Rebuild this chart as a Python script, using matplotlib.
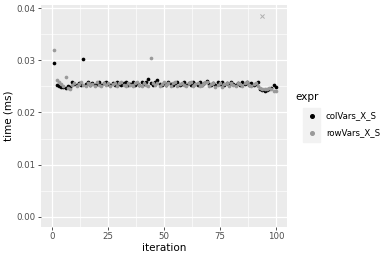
import numpy as np
import matplotlib.pyplot as plt

# Données (temps en ms)
iteration = np.arange(1, 101)

col_vars = [
    0.0295, 0.0253, 0.0251, 0.0249, 0.0248, 0.0247, 0.0250, 0.0249, 0.0258, 0.0255,
    0.0253, 0.0257, 0.0252, 0.0302, 0.0255, 0.0258, 0.0253, 0.0257, 0.0252, 0.0255,
    0.0258, 0.0253, 0.0257, 0.0259, 0.0255, 0.0252, 0.0257, 0.0253, 0.0258, 0.0255,
    0.0252, 0.0257, 0.0259, 0.0253, 0.0255, 0.0258, 0.0252, 0.0257, 0.0253, 0.0258,
    0.0255, 0.0259, 0.0264, 0.0257, 0.0253, 0.0258, 0.0262, 0.0255, 0.0252, 0.0257,
    0.0253, 0.0258, 0.0255, 0.0252, 0.0257, 0.0259, 0.0253, 0.0255, 0.0258, 0.0252,
    0.0257, 0.0253, 0.0259, 0.0255, 0.0252, 0.0258, 0.0253, 0.0257, 0.0260, 0.0255,
    0.0252, 0.0257, 0.0253, 0.0258, 0.0255, 0.0259, 0.0252, 0.0257, 0.0253, 0.0258,
    0.0255, 0.0252, 0.0257, 0.0253, 0.0258, 0.0255, 0.0259, 0.0253, 0.0257, 0.0252,
    0.0255, 0.0258, 0.0245, 0.0243, 0.0242, 0.0243, 0.0244, 0.0247, 0.0253, 0.0249,
]

row_vars = [
    0.0320, 0.0262, 0.0259, 0.0255, 0.0251, 0.0268, 0.0246, 0.0244, 0.0253, 0.0257,
    0.0251, 0.0255, 0.0258, 0.0253, 0.0251, 0.0257, 0.0252, 0.0255, 0.0250, 0.0258,
    0.0253, 0.0251, 0.0256, 0.0252, 0.0257, 0.0250, 0.0254, 0.0257, 0.0251, 0.0256,
    0.0258, 0.0252, 0.0250, 0.0257, 0.0253, 0.0251, 0.0256, 0.0258, 0.0252, 0.0250,
    0.0257, 0.0253, 0.0251, 0.0304, 0.0256, 0.0252, 0.0257, 0.0250, 0.0254, 0.0258,
    0.0252, 0.0256, 0.0250, 0.0257, 0.0259, 0.0251, 0.0254, 0.0257, 0.0252, 0.0250,
    0.0256, 0.0258, 0.0251, 0.0254, 0.0257, 0.0250, 0.0252, 0.0256, 0.0258, 0.0251,
    0.0254, 0.0257, 0.0249, 0.0252, 0.0256, 0.0248, 0.0254, 0.0257, 0.0251, 0.0256,
    0.0252, 0.0250, 0.0257, 0.0254, 0.0251, 0.0256, 0.0258, 0.0252, 0.0250, 0.0254,
    0.0257, 0.0251, 0.0246, 0.0244, 0.0244, 0.0245, 0.0246, 0.0244, 0.0242, 0.0241,
]

# Point isolé marqué d'une croix
outlier_iter = [94]
outlier_time = [0.0385]

labels = ['colVars_X_S', 'rowVars_X_S']
colors = ['black', '#9a9a9a']

"""Figure"""

fig = plt.figure(figsize=(3.9, 2.6), dpi=100)
ax = fig.add_axes([41/390, 1 - 227/260, 246/390, 222/260])
ax.set_facecolor('#EBEBEB')
for s in ax.spines.values():
    s.set_visible(False)

ax.set_xlim(-4.95, 104.95)
ax.set_ylim(-0.00193, 0.04058)
ax.set_xticks([0, 25, 50, 75, 100])
ax.set_xticks([12.5, 37.5, 62.5, 87.5], minor=True)
ax.set_yticks([0, 0.01, 0.02, 0.03, 0.04])
ax.set_yticklabels(['0.00', '0.01', '0.02', '0.03', '0.04'])
ax.set_yticks([0.005, 0.015, 0.025, 0.035], minor=True)
ax.grid(True, which='major', color='white', linewidth=0.9)
ax.grid(True, which='minor', color='white', linewidth=0.45)
ax.set_axisbelow(True)
ax.tick_params(which='major', length=2.2, width=0.6, color='#333333',
               labelsize=6.2, labelcolor='#4D4D4D', pad=1.5)
ax.tick_params(which='minor', length=0)

ax.scatter(iteration, col_vars, s=7, color=colors[0], linewidths=0, zorder=3)
ax.scatter(iteration, row_vars, s=7, color=colors[1], linewidths=0, zorder=3)
ax.scatter(outlier_iter, outlier_time, s=9, marker='x', color='#b0b0b0',
           linewidths=0.7, zorder=3)

ax.set_xlabel('iteration', fontsize=7.5, labelpad=1.5)
ax.set_ylabel('time (ms)', fontsize=7.5, labelpad=2)

# Légende façon ggplot
fig.text(295/390, 1 - 97/260, 'expr', fontsize=7.5, va='center', ha='left')
for i, (lab, c) in enumerate(zip(labels, colors)):
    yc = 116 + 17 * i
    fig.patches.append(plt.Rectangle((303/390, 1 - (yc + 8.5)/260), 17/390, 17/260,
                                     transform=fig.transFigure, color='#F2F2F2', zorder=1))
    fig.add_artist(plt.Line2D([311.5/390], [1 - yc/260], marker='o', markersize=2.6,
                              color=c, linestyle='none', transform=fig.transFigure, zorder=2))
    fig.text(326/390, 1 - yc/260, lab, fontsize=6.2, va='center', ha='left')

fig.savefig('out.png', dpi=100)
